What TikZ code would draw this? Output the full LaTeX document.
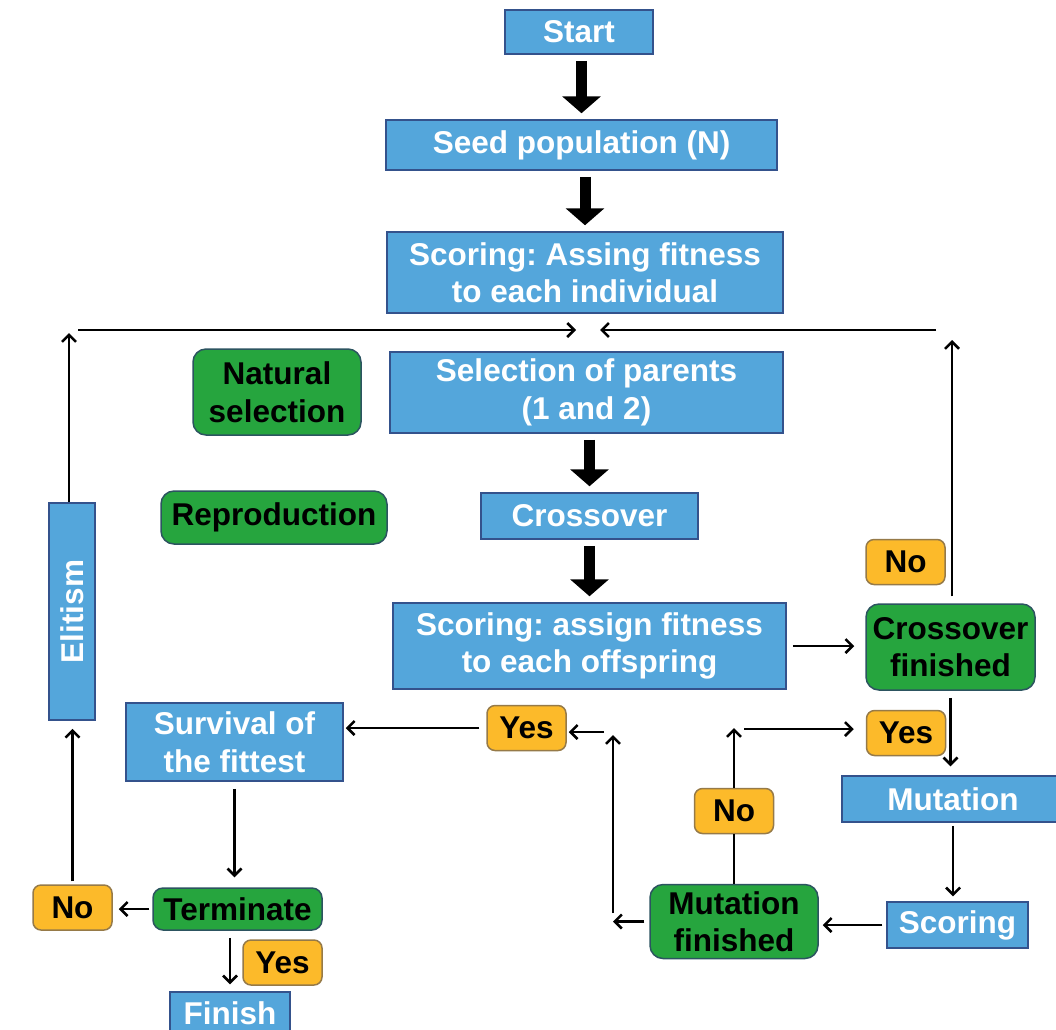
\documentclass[tikz,border=0pt]{standalone}
\usepackage{fontspec}
\setmainfont{Liberation Sans}
\usepackage{xcolor}
\usepackage{graphicx}
\usetikzlibrary{positioning, arrows.meta}
\frenchspacing

\definecolor{boxblue}{RGB}{84,166,219}
\definecolor{blueedge}{RGB}{52,82,140}
\definecolor{boxgreen}{RGB}{38,165,62}
\definecolor{greenedge}{RGB}{44,84,96}
\definecolor{boxorange}{RGB}{252,186,42}
\definecolor{orangeedge}{RGB}{150,122,72}

\tikzset{
    base/.style={font=\fontsize{31.5}{37.5}\selectfont\bfseries, align=center, inner sep=0pt, line width=1.5pt},
    bluebox/.style={base, rectangle, fill=boxblue, draw=blueedge, text=white},
    greenbox/.style={base, rectangle, rounded corners=13pt, fill=boxgreen, draw=greenedge, text=black},
    orangebox/.style={base, rectangle, rounded corners=8pt, fill=boxorange, draw=orangeedge, text=black,
        minimum width=79pt, minimum height=45pt},
    fatarrow/.style={line width=11pt, -{Triangle[width=38pt, length=17pt]}, shorten <=6pt, shorten >=6pt},
    thinarrow/.style={line width=2.5pt, -{Straight Barb[width=14pt, length=7pt]}},
    thinline/.style={line width=2.5pt}
}

\begin{document}
\begin{tikzpicture}[x=1pt, y=-1pt]
        \fill[white] (0,0) rectangle (1056,1029);
        \useasboundingbox (0,0) rectangle (1056,1029);

        % main column
        \node[bluebox, minimum width=148pt, minimum height=44pt] (start) at (579,32) {Start};
        \node[bluebox, minimum width=391pt, minimum height=50pt] (seed) at (581.5,145) {Seed population (N)};
        \node[bluebox, minimum width=396pt, minimum height=81pt] (score1) at (585,272.5) {Scoring: Assing fitness\\to each individual};
        \node[bluebox, minimum width=393pt, minimum height=81pt] (select) at (586.5,392.5) {Selection of parents\\(1 and 2)};
        \node[bluebox, minimum width=217pt, minimum height=46pt] (cross) at (589.5,516) {Crossover};
        \node[bluebox, minimum width=393pt, minimum height=86pt] (score2) at (589.5,646) {Scoring: assign fitness\\to each offspring};

        % side labels
        \node[greenbox, minimum width=168pt, minimum height=86pt] (natsel) at (277,392) {Natural\\selection};
        \node[greenbox, minimum width=226pt, minimum height=53pt] (repro) at (274,517.5) {Reproduction};

        % loops
        \node[bluebox, minimum width=46pt, minimum height=217pt] (elit) at (72,611.5) {\rotatebox{90}{Elitism}};
        \node[bluebox, minimum width=217pt, minimum height=78pt] (surv) at (234.5,742) {Survival of\\the fittest};
        \node[orangebox] (yesA) at (526.5,728) {Yes};
        \node[greenbox, minimum width=169pt, minimum height=86pt] (crossfin) at (950.5,647) {Crossover\\finished};
        \node[orangebox] (noA) at (905.5,562) {No};
        \node[orangebox] (yesB) at (906,733) {Yes};
        \node[bluebox, minimum width=222pt, minimum height=46pt] (mut) at (953,799) {Mutation};
        \node[orangebox] (noB) at (734,811) {No};
        \node[greenbox, minimum width=168pt, minimum height=74pt] (mutfin) at (734,921.5) {Mutation\\finished};
        \node[bluebox, minimum width=141pt, minimum height=46pt] (score3) at (957.5,925) {Scoring};
        \node[orangebox] (noC) at (72.5,907.5) {No};
        \node[greenbox, minimum width=169pt, minimum height=42pt, rounded corners=10pt] (term) at (237.5,909) {Terminate};
        \node[orangebox] (yesC) at (282.5,962.5) {Yes};
        \node[bluebox, minimum width=120pt, minimum height=42pt] (finish) at (230,1013) {Finish};

        \coordinate (elitTop) at (69,333);
        \coordinate (loopL) at (78,330);
        \coordinate (loopML) at (576,330);
        \coordinate (loopMR) at (600,330);
        \coordinate (loopR) at (936,330);
        \coordinate (crossTop) at (952,340);
        \coordinate (upLine) at (613,913);
        \coordinate (upTop) at (613,735);
        \coordinate (yesAR) at (604,732);
        \coordinate (noBTop) at (734,728);
        \coordinate (yesBL) at (744,729);

        \draw[fatarrow] (seed.north |- start.south) -- (seed.north);
        \draw[fatarrow] (score1.north |- seed.south) -- (score1.north);
        \draw[fatarrow] (cross.north |- select.south) -- (cross.north);
        \draw[fatarrow] (score2.north |- cross.south) -- (score2.north);

        \draw[thinarrow] (elit.north -| elitTop) -- (elitTop);
        \draw[thinarrow] (loopL) -- (loopML);
        \draw[thinarrow] (loopR) -- (loopMR);
        \draw[thinarrow, shorten <=7pt] (crossfin.north -| crossTop) -- (crossTop);

        \draw[thinarrow, shorten <=6pt, shorten >=11pt] (score2.east) -- (score2.east -| crossfin.west);
        \draw[thinarrow, shorten <=7pt, shorten >=9pt] (crossfin.south) -- (crossfin.south |- mut.north);
        \draw[thinarrow, shorten <=3pt, shorten >=5pt] (mut.south) -- (mut.south |- score3.north);
        \draw[thinarrow, shorten <=4pt, shorten >=4pt] (score3.west) -- (score3.west -| mutfin.east);
        \draw[thinarrow, shorten <=5pt] (mutfin.west) -- (mutfin.west -| upLine);
        \draw[thinarrow] (upLine) -- (upTop);
        \draw[thinarrow, shorten >=2pt] (yesAR) -- (yesAR -| yesA.east);
        \draw[thinarrow, shorten <=7pt, shorten >=2pt] (yesA.west) -- (yesA.west -| surv.east);

        \draw[thinline] (mutfin.north) -- (noB.south);
        \draw[thinarrow] (noB.north) -- (noB.north |- noBTop);
        \draw[thinarrow, shorten >=12pt] (yesBL) -- (yesBL -| yesB.west);

        \draw[thinarrow, shorten <=7pt, shorten >=10pt] (surv.south) -- (surv.south |- term.north);
        \draw[thinarrow, shorten <=3pt, shorten >=6pt] (term.west) -- (term.west -| noC.east);
        \draw[thinarrow, shorten <=3pt, shorten >=8pt] (noC.north) -- (noC.north |- elit.south);
        \draw[thinarrow, shorten <=7pt, shorten >=7pt] (finish.north |- term.south) -- (finish.north);
\end{tikzpicture}
\end{document}
